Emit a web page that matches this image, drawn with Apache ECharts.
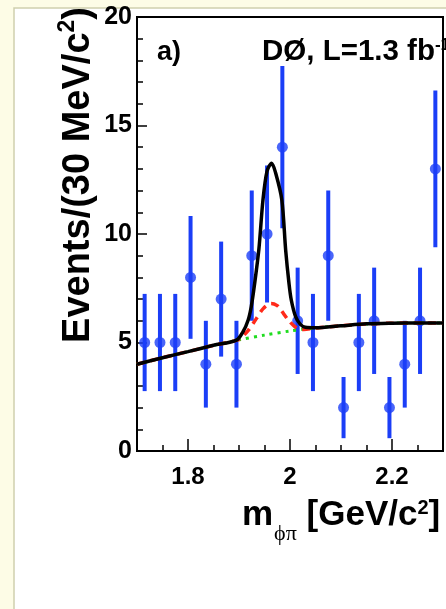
<!DOCTYPE html>
<html>
<head>
<meta charset="utf-8">
<script src="https://cdn.jsdelivr.net/npm/echarts@6/dist/echarts.min.js"></script>
<style>
html,body{margin:0;padding:0;background:#fdfce6;}
#chart{width:446px;height:609px;}
</style>
</head>
<body>
<div id="chart"></div>
<script>
// Data points (30 MeV bins)
const binCenters = [1.715,1.745,1.775,1.805,1.835,1.865,1.895,1.925,1.955,1.985,2.015,2.045,2.075,2.105,2.135,2.165,2.195,2.225,2.255,2.285];
const counts     = [5,5,5,8,4,7,4,9,10,14,6,5,9,2,5,6,2,4,6,13];
const errors     = [2.24,2.24,2.24,2.83,2.0,2.65,2.0,3.0,3.16,3.74,2.45,2.24,3.0,1.41,2.24,2.45,1.41,2.0,2.45,3.61];

// Total fit (black solid)
const fitX = [1.70,1.75,1.80,1.85,1.895,1.908,1.918,1.924,1.930,1.939,1.947,1.955,1.964,1.972,1.984,1.9915,1.998,2.0025,2.011,2.020,2.030,2.050,2.100,2.150,2.200,2.250,2.300];
const fitY = [4.00,4.30,4.58,4.87,5.11,5.50,6.04,6.65,7.60,9.30,11.57,12.90,13.26,12.80,11.57,9.26,7.73,6.96,6.19,5.85,5.70,5.68,5.77,5.86,5.89,5.90,5.90];

// Background + wide component (red dashed)
const redX = [1.70,1.75,1.80,1.85,1.898,1.910,1.918,1.934,1.947,1.963,1.975,1.982,1.998,2.014,2.027,2.050,2.100,2.150,2.200,2.250,2.300];
const redY = [4.00,4.30,4.58,4.87,5.12,5.35,5.55,6.10,6.55,6.80,6.70,6.50,6.00,5.65,5.60,5.67,5.77,5.85,5.89,5.90,5.90];

// Background only (green dotted)
const bgX = [1.70,1.75,1.80,1.85,1.90,1.95,2.00,2.05,2.10,2.15,2.20,2.25,2.30];
const bgY = [4.00,4.30,4.58,4.87,5.12,5.34,5.53,5.67,5.77,5.85,5.89,5.90,5.90];

const xMajorTicks = [1.8, 2.0, 2.2];
const yTicks = [0,5,10,15,20];

const FONT = '"Liberation Sans", Arial, Helvetica, sans-serif';
const SERIF = '"Liberation Serif", "DejaVu Serif", serif';
const BLUE = '#1b3ef7';

function pairs(xs, ys){ return xs.map((x,i)=>[x, ys[i]]); }

const chart = echarts.init(document.getElementById('chart'), null, {renderer:'canvas'});
const option = {
  backgroundColor: '#fdfce6',
  animation: false,
  graphic: [
    {type:'rect', z:-10, shape:{x:14, y:8, width:600, height:700},
     style:{fill:'#ffffff', stroke:'#cfcfae', lineWidth:1.5}},
    {type:'text', z:100, x:157, y:39,
     style:{text:'a)', font:'bold 27px ' + FONT, fill:'#000'}},
    {type:'text', z:100, x:262, y:37,
     style:{text:'{n|DØ, L=1.3 fb}{s|-1}', fill:'#000',
       rich:{n:{font:'bold 29.5px ' + FONT, verticalAlign:'bottom'},
             s:{font:'bold 17px ' + FONT, verticalAlign:'top', padding:[0,0,13,0]}}}},
    {type:'text', z:100, x:77, y:175, rotation: Math.PI/2,
     style:{text:'{n|Events/(30 MeV/c}{s|2}{n|)}', align:'center', verticalAlign:'middle', fill:'#000',
       rich:{n:{font:'bold 38px ' + FONT, verticalAlign:'bottom'},
             s:{font:'bold 23px ' + FONT, verticalAlign:'top', padding:[0,0,18,0]}}}},
    {type:'text', z:100, x:242, y:498,
     style:{text:'{n|m}{b|ϕπ}{n| [GeV/c}{s|2}{n|]}', fill:'#000',
       rich:{n:{font:'bold 35px ' + FONT, verticalAlign:'top'},
             b:{font:'22px ' + SERIF, verticalAlign:'bottom', padding:[25,0,0,1]},
             s:{font:'bold 20px ' + FONT, verticalAlign:'top'}}}}
  ],
  grid: {left:137, top:17, right:-2.4, bottom:158, show:true, borderColor:'#000', borderWidth:2, backgroundColor:'transparent'},
  xAxis: [
    {type:'value', min:1.7, max:2.3, interval:0.05,
     axisLine:{show:true, lineStyle:{color:'#000', width:2}},
     axisTick:{show:true, inside:true, length:6, lineStyle:{color:'#000', width:1.5}},
     splitLine:{show:false},
     axisLabel:{show:true, margin:14, color:'#000', fontSize:24, fontWeight:'bold', fontFamily:FONT,
       formatter:function(v){
         for (const t of xMajorTicks){ if (Math.abs(v-t)<1e-6) return String(t); }
         return '';
       }}},
    {type:'value', min:1.7, max:2.3, position:'bottom',
     axisLine:{show:false},
     axisTick:{show:true, inside:true, length:12, customValues:xMajorTicks, lineStyle:{color:'#000', width:1.5}},
     axisLabel:{show:false}, splitLine:{show:false}}
  ],
  yAxis: {type:'value', min:0, max:20, interval:5,
    axisLine:{show:true, lineStyle:{color:'#000', width:2}},
    axisTick:{show:true, inside:true, length:10, lineStyle:{color:'#000', width:1.5}},
    minorTick:{show:true, splitNumber:5, length:6, lineStyle:{color:'#000', width:1.5}},
    splitLine:{show:false},
    axisLabel:{margin:5, color:'#000', fontSize:25, fontWeight:'bold', fontFamily:FONT,
      customValues: yTicks}},
  series: [
    {type:'custom', z:2, xAxisIndex:0,
     data: binCenters.map((x,i)=>[x, counts[i]-errors[i], counts[i]+errors[i]]),
     encode:{x:0, y:[1,2]},
     renderItem:function(params, api){
       const p1 = api.coord([api.value(0), api.value(1)]);
       const p2 = api.coord([api.value(0), api.value(2)]);
       return {type:'line', shape:{x1:p1[0], y1:p1[1], x2:p2[0], y2:p2[1]},
               style:{stroke:BLUE, lineWidth:4}};
     }},
    {type:'scatter', z:3, xAxisIndex:0, symbol:'circle', symbolSize:11,
     itemStyle:{color:BLUE}, data: pairs(binCenters, counts)},
    {type:'line', z:4, xAxisIndex:0, showSymbol:false, smooth:0.3, data: pairs(bgX, bgY),
     lineStyle:{color:'#1fdc1f', width:3, type:[3,5]}},
    {type:'line', z:5, xAxisIndex:0, showSymbol:false, smooth:0.3, data: pairs(redX, redY),
     lineStyle:{color:'#ff2a1a', width:3.5, type:[8,6]}},
    {type:'line', z:6, xAxisIndex:0, showSymbol:false, smooth:0.3, data: pairs(fitX, fitY),
     lineStyle:{color:'#000', width:3.5}}
  ]
};
chart.setOption(option);
</script>
</body>
</html>
